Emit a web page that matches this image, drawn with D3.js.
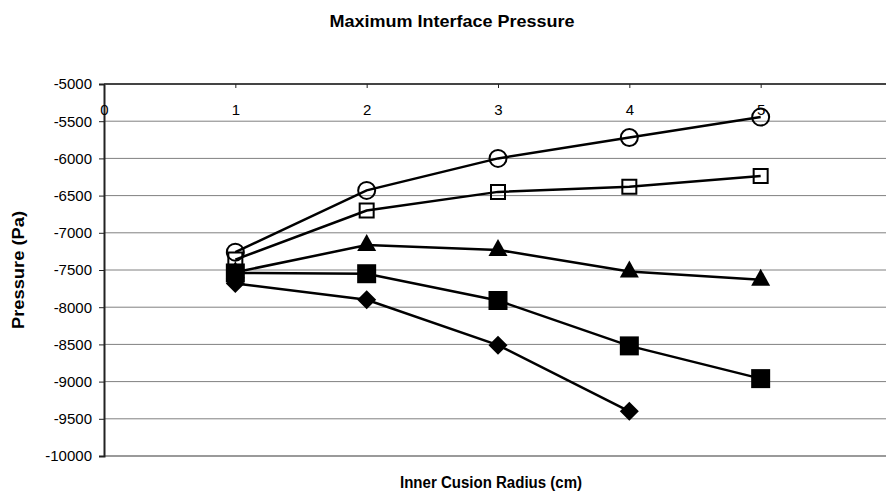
<!DOCTYPE html>
<html>
<head>
<meta charset="utf-8">
<script src="https://cdn.jsdelivr.net/npm/d3@7"></script>
<style>
  body { margin: 0; background: #fff; }
  text { font-family: Arial, "Liberation Sans", sans-serif; }
</style>
</head>
<body>
<div id="chart"></div>
<script>
var radius = [1, 2, 3, 4, 5];

// one array per series
var seriesDiamond = [-7680, -7900, -8510, -9400];
var seriesSquare = [-7540, -7550, -7910, -8520, -8960];
var seriesTriangle = [-7530, -7165, -7230, -7520, -7630];
var seriesOpenSquare = [-7360, -6700, -6450, -6380, -6235];
var seriesCircle = [-7260, -6430, -6000, -5720, -5445];

var yTicks = [-5000, -5500, -6000, -6500, -7000, -7500, -8000, -8500, -9000, -9500, -10000];
var xTicks = [0, 1, 2, 3, 4, 5];

var width = 886, height = 494;

var svg = d3.select("#chart").append("svg")
  .attr("width", width)
  .attr("height", height);

var x = d3.scaleLinear().domain([0, 6]).range([104, 892]);
var y = d3.scaleLinear().domain([-10000, -5000]).range([456, 84]);

// gridlines
svg.append("g")
  .selectAll("line")
  .data(yTicks.filter(function(d) { return d > -10000 && d < -5000; }))
  .enter().append("line")
  .attr("x1", x(0)).attr("x2", width)
  .attr("y1", function(d) { return y(d); })
  .attr("y2", function(d) { return y(d); })
  .attr("stroke", "#808080")
  .attr("stroke-width", 1);

// bottom border line
svg.append("line")
  .attr("x1", x(0)).attr("x2", width)
  .attr("y1", y(-10000)).attr("y2", y(-10000))
  .attr("stroke", "#9a9a9a").attr("stroke-width", 2);

// y axis (plain hyphen minus, like the original)
var yAxis = svg.append("g")
  .attr("transform", "translate(" + x(0) + ",0)")
  .call(d3.axisLeft(y).tickValues(yTicks).tickSize(5).tickPadding(7).tickFormat(function(d) { return String(d); }));
yAxis.select(".domain").attr("stroke", "#222").attr("stroke-width", 2);
yAxis.selectAll(".tick line").attr("stroke", "#222");
yAxis.selectAll("text").attr("font-size", 15).attr("fill", "#000")
  .style("font-family", "Arial, 'Liberation Sans', sans-serif");

// x axis sits at the top (crosses at -5000), labels below it
var xAxis = svg.append("g")
  .attr("transform", "translate(0," + y(-5000) + ")")
  .call(d3.axisBottom(x).tickValues(xTicks).tickSize(4).tickPadding(16).tickFormat(function(d) { return String(d); }));
xAxis.select(".domain").attr("stroke", "#444").attr("stroke-width", 2)
  .attr("d", "M" + x(0) + ",0H" + width);
xAxis.selectAll(".tick line").attr("stroke", "#222");
xAxis.selectAll("text").attr("font-size", 15).attr("fill", "#000")
  .style("font-family", "Arial, 'Liberation Sans', sans-serif");

var line = d3.line()
  .x(function(d, i) { return x(radius[i]); })
  .y(function(d) { return y(d); });

var series = [
  { values: seriesDiamond, shape: "diamond" },
  { values: seriesSquare, shape: "square" },
  { values: seriesTriangle, shape: "triangle" },
  { values: seriesOpenSquare, shape: "opensquare" },
  { values: seriesCircle, shape: "circle" }
];

series.forEach(function(s) {
  svg.append("path")
    .datum(s.values)
    .attr("d", line)
    .attr("fill", "none")
    .attr("stroke", "#000")
    .attr("stroke-width", 2.5);
});

series.forEach(function(s) {
  var g = svg.append("g");
  var pts = g.selectAll("path").data(s.values).enter().append("path")
    .attr("transform", function(d, i) { return "translate(" + x(radius[i]) + "," + y(d) + ")"; });
  if (s.shape == "diamond") {
    pts.attr("d", "M0,-9.5L9.5,0L0,9.5L-9.5,0Z").attr("fill", "#000");
  } else if (s.shape == "square") {
    pts.attr("d", "M-9.5,-9.5H9.5V9.5H-9.5Z").attr("fill", "#000");
  } else if (s.shape == "triangle") {
    pts.attr("d", "M0,-11L9.5,6H-9.5Z").attr("fill", "#000");
  } else if (s.shape == "opensquare") {
    pts.attr("d", "M-7,-7H7V7H-7Z").attr("fill", "none").attr("stroke", "#000").attr("stroke-width", 2);
  } else {
    pts.attr("d", d3.arc()({ innerRadius: 0, outerRadius: 8.5, startAngle: 0, endAngle: 2 * Math.PI }))
      .attr("fill", "none").attr("stroke", "#000").attr("stroke-width", 2);
  }
});

// titles
svg.append("text")
  .attr("x", 452).attr("y", 27)
  .attr("text-anchor", "middle")
  .attr("font-size", 17).attr("font-weight", "bold")
  .attr("textLength", 245).attr("lengthAdjust", "spacingAndGlyphs")
  .text("Maximum Interface Pressure");

svg.append("text")
  .attr("x", 491).attr("y", 488)
  .attr("text-anchor", "middle")
  .attr("font-size", 16).attr("font-weight", "bold")
  .attr("textLength", 182).attr("lengthAdjust", "spacingAndGlyphs")
  .text("Inner Cusion Radius (cm)");

svg.append("text")
  .attr("transform", "translate(24,270) rotate(-90)")
  .attr("text-anchor", "middle")
  .attr("font-size", 16).attr("font-weight", "bold")
  .attr("textLength", 118).attr("lengthAdjust", "spacingAndGlyphs")
  .text("Pressure (Pa)");
</script>
</body>
</html>
